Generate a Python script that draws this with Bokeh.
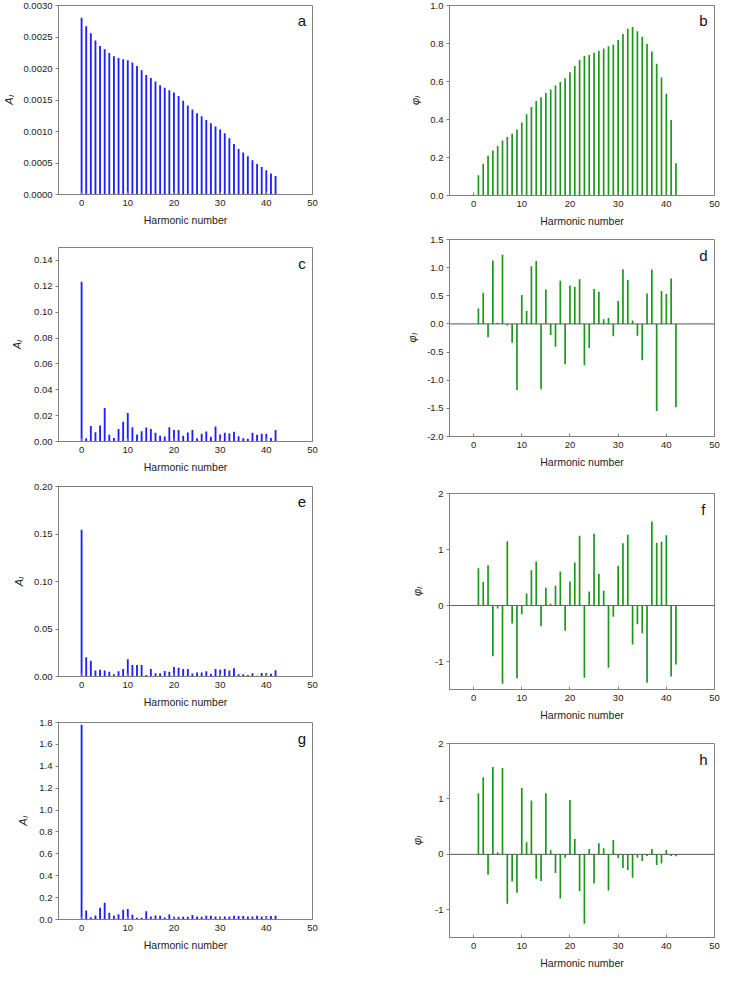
from bokeh.plotting import figure
from bokeh.layouts import row, column
from bokeh.models import FixedTicker, NumeralTickFormatter, Span, Range1d, Label
from bokeh.embed import file_html
from bokeh.resources import INLINE

harmonic = list(range(43))
x_ticks = [0, 10, 20, 30, 40, 50]

amp_a = [0.002805, 0.002671, 0.002558, 0.002445, 0.002358, 0.002306, 0.002245, 0.002193,
         0.002168, 0.002147, 0.002132, 0.002096, 0.002039, 0.001973, 0.001896, 0.001849,
         0.001793, 0.001736, 0.001695, 0.001654, 0.001618, 0.001562, 0.001490, 0.001413,
         0.001351, 0.001289, 0.001243, 0.001182, 0.001130, 0.001079, 0.001033, 0.000971,
         0.000894, 0.000801, 0.000724, 0.000668, 0.000606, 0.000545, 0.000483, 0.000437,
         0.000385, 0.000334, 0.000293]
phase_b = [0.005, 0.106, 0.167, 0.209, 0.237, 0.261, 0.289, 0.308, 0.325, 0.348, 0.384,
           0.428, 0.466, 0.497, 0.517, 0.539, 0.558, 0.579, 0.598, 0.617, 0.649, 0.682,
           0.713, 0.734, 0.739, 0.751, 0.762, 0.774, 0.786, 0.793, 0.819, 0.850, 0.877,
           0.887, 0.864, 0.835, 0.797, 0.758, 0.694, 0.621, 0.536, 0.397, 0.170]
amp_c = [0.1235, 0.0025, 0.0119, 0.0072, 0.0124, 0.0259, 0.0052, 0.0028, 0.0096, 0.0153,
         0.0220, 0.0111, 0.0054, 0.0080, 0.0109, 0.0096, 0.0067, 0.0044, 0.0039, 0.0111,
         0.0088, 0.0088, 0.0044, 0.0070, 0.0088, 0.0026, 0.0060, 0.0078, 0.0036, 0.0116,
         0.0054, 0.0067, 0.0062, 0.0075, 0.0041, 0.0026, 0.0021, 0.0067, 0.0052, 0.0060,
         0.0060, 0.0028, 0.0088]
phase_d = [0.0, 0.276, 0.554, -0.238, 1.127, 0.022, 1.228, -0.030, -0.333, -1.172, 0.513,
           0.229, 1.025, 1.116, -1.160, 0.613, -0.197, -0.404, 0.766, -0.717, 0.684, 0.654,
           0.796, -0.735, -0.427, 0.619, 0.572, 0.081, 0.105, -0.221, 0.407, 0.973, 0.779,
           0.063, -0.209, -0.646, 0.542, 0.967, -1.546, 0.583, 0.530, 0.808, -1.480]
amp_e = [0.1544, 0.0202, 0.0167, 0.0063, 0.0070, 0.0063, 0.0049, 0.0024, 0.0056, 0.0080,
         0.0181, 0.0122, 0.0122, 0.0122, 0.0017, 0.0080, 0.0035, 0.0035, 0.0059, 0.0049,
         0.0101, 0.0091, 0.0080, 0.0080, 0.0031, 0.0042, 0.0042, 0.0056, 0.0028, 0.0080,
         0.0070, 0.0080, 0.0063, 0.0087, 0.0024, 0.0024, 0.0017, 0.0035, 0.0007, 0.0038,
         0.0038, 0.0028, 0.0066]
phase_f = [0.0, 0.667, 0.423, 0.720, -0.905, -0.054, -1.399, 1.149, -0.321, -1.298, -0.155,
           0.214, 0.631, 0.786, -0.369, 0.315, 0.030, 0.351, 0.607, -0.452, 0.429, 0.768,
           1.244, -1.292, 0.250, 1.280, 0.565, 0.262, -1.113, -0.202, 0.708, 1.113, 1.262,
           -0.696, -0.333, -0.494, -1.381, 1.500, 1.119, 1.137, 1.256, -1.268, -1.054]
amp_g = [1.78, 0.082, 0.021, 0.037, 0.107, 0.153, 0.061, 0.034, 0.049, 0.089, 0.095,
         0.043, 0.015, 0.015, 0.076, 0.027, 0.037, 0.034, 0.018, 0.046, 0.024, 0.024,
         0.024, 0.024, 0.040, 0.027, 0.024, 0.034, 0.034, 0.027, 0.027, 0.027, 0.027,
         0.034, 0.031, 0.031, 0.027, 0.027, 0.034, 0.027, 0.031, 0.031, 0.034]
phase_h = [0.0, 1.102, 1.392, -0.367, 1.578, 0.036, 1.560, -0.892, -0.488, -0.693, 1.199,
           0.217, 0.970, -0.440, -0.482, 1.102, 0.072, -0.337, -0.795, -0.060, 0.982, 0.277,
           -0.663, -1.253, 0.096, -0.524, 0.199, 0.108, -0.651, 0.259, -0.066, -0.247,
           -0.283, -0.422, -0.060, -0.120, -0.030, 0.096, -0.193, -0.163, 0.078, -0.030,
           -0.036]

ticks_a = [0, 0.0005, 0.001, 0.0015, 0.002, 0.0025, 0.003]
ticks_b = [0, 0.2, 0.4, 0.6, 0.8, 1.0]
ticks_c = [0, 0.02, 0.04, 0.06, 0.08, 0.10, 0.12, 0.14]
ticks_d = [-2.0, -1.5, -1.0, -0.5, 0.0, 0.5, 1.0, 1.5]
ticks_e = [0, 0.05, 0.10, 0.15, 0.20]
ticks_f = [-1, 0, 1, 2]
ticks_g = [0, 0.2, 0.4, 0.6, 0.8, 1.0, 1.2, 1.4, 1.6, 1.8]
ticks_h = [-1, 0, 1, 2]

BLUE = "#1f1fff"
GREEN = "#1c961c"
FRAME = "#808080"
TXT = "#222222"
FONT = "Liberation Sans"


def panel(vals, color, yr, yticks, fmt, ylabel, letter, w, h, left, right, top, bottom,
          als, zero=None, bw=0.4):
    p = figure(width=w, height=h, output_backend="svg", toolbar_location=None,
               x_range=Range1d(-5, 50), y_range=Range1d(yr[0], yr[1]),
               min_border_left=left, min_border_right=right,
               min_border_top=top, min_border_bottom=bottom)
    p.background_fill_color = "white"
    p.border_fill_color = "white"
    p.outline_line_color = FRAME
    p.outline_line_width = 1
    p.xgrid.visible = False
    p.ygrid.visible = False
    if zero:
        p.add_layout(Span(location=0, dimension="width", line_color=zero, line_width=1))
    p.vbar(x=harmonic, top=vals, bottom=0, width=bw, color=color, line_width=0)
    xa = p.xaxis[0]
    xa.ticker = FixedTicker(ticks=x_ticks)
    xa.axis_label = "Harmonic number"
    xa.axis_label_text_font_style = "normal"
    xa.major_tick_in = 3
    xa.major_tick_out = 0
    xa.minor_tick_in = 0
    xa.minor_tick_out = 0
    xa.major_label_standoff = 5
    xa.axis_label_standoff = 5
    ya = p.yaxis[0]
    ya.ticker = FixedTicker(ticks=yticks)
    ya.formatter = NumeralTickFormatter(format=fmt)
    ya.axis_label = ylabel
    ya.axis_label_text_font_style = "italic"
    ya.major_tick_in = 0
    ya.major_tick_out = 3
    ya.minor_tick_in = 0
    ya.minor_tick_out = 0
    ya.major_label_standoff = 3
    ya.axis_label_standoff = als
    for ax in (xa, ya):
        ax.axis_line_color = FRAME
        ax.major_tick_line_color = FRAME
        ax.major_label_text_font = FONT
        ax.major_label_text_font_size = "9.5px"
        ax.major_label_text_color = TXT
        ax.axis_label_text_font = FONT
        ax.axis_label_text_color = TXT
    xa.axis_label_text_font_size = "10.5px"
    ya.axis_label_text_font_size = "11px"
    span = yr[1] - yr[0]
    p.add_layout(Label(x=47.7, y=yr[1] - 0.08 * span, text=letter,
                       text_font=FONT, text_font_size="15px", text_color="#111111",
                       text_align="center", text_baseline="middle"))
    return p


A = "A\u2097"
PHI = "\u03c6\u2097"

pa = panel(amp_a, BLUE, (0, 0.003), ticks_a, "0.0000", A, "a", 362, 230, 51, 42, 5, 36, 5)
pc = panel(amp_c, BLUE, (0, 0.15), ticks_c, "0.00", A, "c", 362, 250, 44, 49, 17, 39, 8)
pe = panel(amp_e, BLUE, (0, 0.2), ticks_e, "0.00", A, "e", 362, 230, 46, 50, 6, 33, 6)
pg = panel(amp_g, BLUE, (0, 1.8), ticks_g, "0.0", A, "g", 362, 261, 40, 49, 12, 52, 7)

pb = panel(phase_b, GREEN, (0, 1.0), ticks_b, "0.0", PHI, "b", 362, 232, 87, 8, 5, 37, 6, bw=0.35)
pd = panel(phase_d, GREEN, (-2.0, 1.5), ticks_d, "0.0", PHI, "d", 362, 250, 85, 5, 7, 46, 6,
           zero="#555555", bw=0.35)
pf = panel(phase_f, GREEN, (-1.5, 2), ticks_f, "0", PHI, "f", 362, 245, 82, 8, 11, 38, 9,
           zero="#2e8b2e", bw=0.35)
ph = panel(phase_h, GREEN, (-1.5, 2), ticks_h, "0", PHI, "h", 362, 244, 82, 10, 16, 34, 9,
           zero="#555555", bw=0.35)

layout = row(column(pa, pc, pe, pg), column(pb, pd, pf, ph))

open("out.html", "w").write(file_html(layout, INLINE))
